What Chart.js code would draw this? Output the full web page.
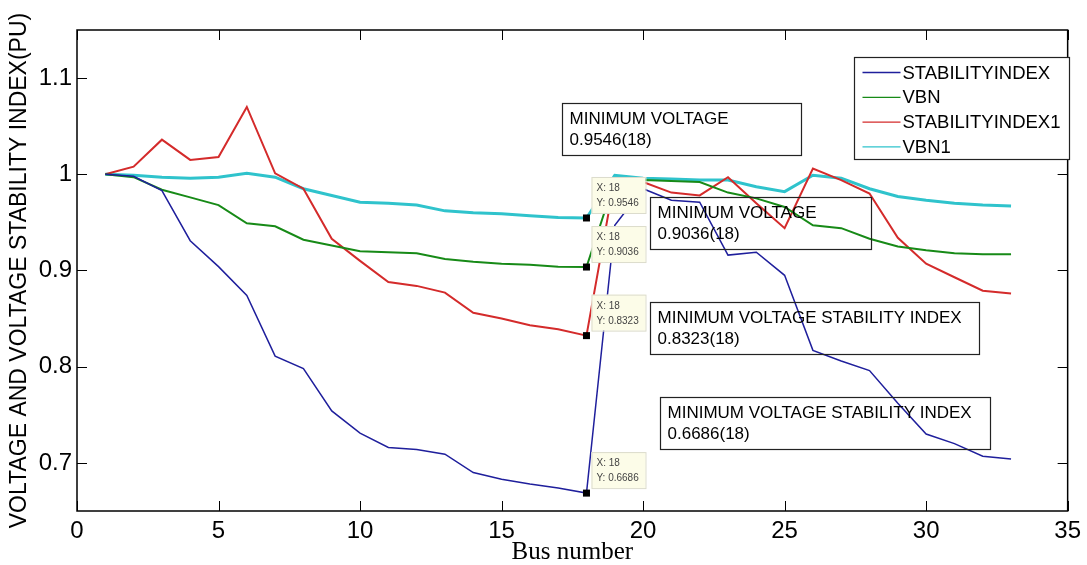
<!DOCTYPE html>
<html>
<head>
<meta charset="utf-8">
<script src="https://cdn.jsdelivr.net/npm/chart.js@4.4.1/dist/chart.umd.min.js"></script>
<style>
  html, body { margin: 0; padding: 0; background: #fff; }
  #wrap { width: 1087px; height: 565px; }
</style>
</head>
<body>
<div id="wrap"><canvas id="chart" width="1087" height="565"></canvas></div>
<script>
'use strict';

// ── Data ─────────────────────────────────────────────────────────────────────

const buses = [1, 2, 3, 4, 5, 6, 7, 8, 9, 10, 11, 12, 13, 14, 15, 16, 17,
               18, 19, 20, 21, 22, 23, 24, 25, 26, 27, 28, 29, 30, 31, 32, 33];

const stabilityIndex = [1.000, 0.998, 0.983, 0.931, 0.904, 0.874, 0.811, 0.798,
  0.754, 0.731, 0.716, 0.714, 0.709, 0.690, 0.683, 0.678, 0.674, 0.6686,
  0.947, 0.985, 0.973, 0.971, 0.916, 0.919, 0.895, 0.817, 0.806, 0.796,
  0.762, 0.730, 0.720, 0.707, 0.704];

const vbn = [1.000, 0.997, 0.984, 0.976, 0.968, 0.949, 0.946, 0.932,
  0.926, 0.920, 0.919, 0.918, 0.912, 0.909, 0.907, 0.906, 0.904, 0.9036,
  0.993, 0.994, 0.993, 0.992, 0.981, 0.975, 0.966, 0.947, 0.944, 0.933,
  0.925, 0.921, 0.918, 0.917, 0.917];

const stabilityIndex1 = [1.000, 1.008, 1.036, 1.015, 1.018, 1.070, 1.001, 0.985,
  0.933, 0.910, 0.888, 0.884, 0.877, 0.856, 0.850, 0.843, 0.839, 0.8323,
  0.996, 0.992, 0.981, 0.978, 0.997, 0.970, 0.944, 1.006, 0.994, 0.980,
  0.934, 0.907, 0.893, 0.879, 0.876];

const vbn1 = [1.000, 0.999, 0.997, 0.996, 0.997, 1.001, 0.997, 0.985,
  0.978, 0.971, 0.970, 0.968, 0.962, 0.960, 0.959, 0.957, 0.955, 0.9546,
  0.999, 0.996, 0.995, 0.994, 0.994, 0.987, 0.982, 0.999, 0.996, 0.985,
  0.977, 0.973, 0.970, 0.968, 0.967];

const seriesNames = ['STABILITYINDEX', 'VBN', 'STABILITYINDEX1', 'VBN1'];

const xTicks = [0, 5, 10, 15, 20, 25, 30, 35];
const yTicks = [0.7, 0.8, 0.9, 1.0, 1.1];

// MATLAB data tips at the minimum bus
const tipBus = 18;

// Text boxes: anchored in data units (bus, value), size in px
const notes = [
  { x: 17.13, y: 1.074, w: 239, lines: ['MINIMUM VOLTAGE', '0.9546(18)'] },
  { x: 20.23, y: 0.976, w: 221, lines: ['MINIMUM VOLTAGE', '0.9036(18)'] },
  { x: 20.23, y: 0.867, w: 329, lines: ['MINIMUM VOLTAGE STABILITY INDEX', '0.8323(18)'] },
  { x: 20.59, y: 0.768, w: 330, lines: ['MINIMUM VOLTAGE STABILITY INDEX', '0.6686(18)'] },
];

// ── Styling ──────────────────────────────────────────────────────────────────

const SANS  = '"Liberation Sans", Arial, sans-serif';
const SERIF = '"Liberation Serif", "Times New Roman", serif';
const colors = ['#1f1f9c', '#178a17', '#d42b2b', '#2fc3cc'];
const widths = [1.5, 2, 2, 3];

function points(arr) {
  return buses.map((b, i) => ({ x: b, y: arr[i] }));
}

const allSeries = [stabilityIndex, vbn, stabilityIndex1, vbn1];

// ── Plugins ──────────────────────────────────────────────────────────────────

// Box frame with inward ticks on all four sides (MATLAB style)
const framePlugin = {
  id: 'frame',
  afterDatasetsDraw(chart) {
    const { ctx, chartArea: a, scales: { x, y } } = chart;
    const TL = 10;
    ctx.save();
    ctx.strokeStyle = '#000';
    ctx.lineWidth = 1.5;
    ctx.strokeRect(a.left, a.top, a.right - a.left, a.bottom - a.top);
    ctx.lineWidth = 1;
    ctx.beginPath();
    xTicks.forEach(v => {
      const px = Math.round(x.getPixelForValue(v)) + 0.5;
      ctx.moveTo(px, a.bottom); ctx.lineTo(px, a.bottom - TL);
      ctx.moveTo(px, a.top);    ctx.lineTo(px, a.top + TL);
    });
    yTicks.forEach(v => {
      const py = Math.round(y.getPixelForValue(v)) + 0.5;
      ctx.moveTo(a.left, py);  ctx.lineTo(a.left + TL, py);
      ctx.moveTo(a.right, py); ctx.lineTo(a.right - TL, py);
    });
    ctx.stroke();
    ctx.restore();
  },
};

// Data tips, text boxes and legend drawn on top of everything
const overlayPlugin = {
  id: 'overlay',
  afterDraw(chart) {
    const { ctx, scales: { x, y } } = chart;
    const idx = buses.indexOf(tipBus);
    ctx.save();

    // data tips
    allSeries.forEach(arr => {
      const v = arr[idx];
      const px = x.getPixelForValue(tipBus);
      const py = y.getPixelForValue(v);
      ctx.fillStyle = '#fcfce8';
      ctx.strokeStyle = '#dcdccc';
      ctx.lineWidth = 1;
      ctx.fillRect(px + 5, py - 41, 54, 36);
      ctx.strokeRect(px + 5.5, py - 40.5, 54, 36);
      ctx.fillStyle = '#000';
      ctx.fillRect(px - 3.5, py - 3.5, 7, 7);
      ctx.fillStyle = '#444';
      ctx.font = '10px ' + SANS;
      ctx.textAlign = 'left';
      ctx.textBaseline = 'alphabetic';
      ctx.fillText('X: ' + tipBus, px + 10, py - 27);
      ctx.fillText('Y: ' + v.toFixed(4), px + 10, py - 12);
    });

    // text boxes
    notes.forEach(n => {
      const left = Math.round(x.getPixelForValue(n.x)) + 0.5;
      const top  = Math.round(y.getPixelForValue(n.y)) + 0.5;
      ctx.strokeStyle = '#222';
      ctx.lineWidth = 1.2;
      ctx.strokeRect(left, top, n.w, 52);
      ctx.fillStyle = '#000';
      ctx.font = '17px ' + SANS;
      ctx.textAlign = 'left';
      ctx.textBaseline = 'alphabetic';
      ctx.fillText(n.lines[0], left + 7, top + 20);
      ctx.fillText(n.lines[1], left + 7, top + 41);
    });

    // legend
    const lx = 854.5, ly = 57.5, lw = 215, lh = 102;
    ctx.fillStyle = '#fff';
    ctx.fillRect(lx, ly, lw, lh);
    ctx.strokeStyle = '#222';
    ctx.lineWidth = 1.2;
    ctx.strokeRect(lx, ly, lw, lh);
    ctx.font = '18.5px ' + SANS;
    ctx.textBaseline = 'middle';
    chart.data.datasets.forEach((ds, i) => {
      const cy = ly + 15 + i * 24.8;
      ctx.strokeStyle = ds.borderColor;
      ctx.lineWidth = 1.3;
      ctx.beginPath();
      ctx.moveTo(lx + 8, cy);
      ctx.lineTo(lx + 46, cy);
      ctx.stroke();
      ctx.fillStyle = '#000';
      ctx.fillText(ds.label, lx + 48, cy + 1);
    });
    ctx.restore();
  },
};

// ── Chart ────────────────────────────────────────────────────────────────────

new Chart(document.getElementById('chart'), {
  type: 'line',
  data: {
    datasets: allSeries.map((arr, i) => ({
      label: seriesNames[i],
      data: points(arr),
      borderColor: colors[i],
      backgroundColor: 'transparent',
      borderWidth: widths[i],
      pointRadius: 0,
      tension: 0,
    })),
  },
  options: {
    responsive: false,
    animation: false,
    events: [],
    layout: { padding: { left: 0, right: 17, top: 30, bottom: 0 } },
    scales: {
      x: {
        type: 'linear',
        min: 0,
        max: 35,
        afterFit(s) { s.height = 54; },
        afterBuildTicks(s) { s.ticks = xTicks.map(v => ({ value: v })); },
        grid: { display: false, drawTicks: false, tickLength: 0 },
        border: { display: false },
        ticks: {
          color: '#000',
          padding: 6,
          maxRotation: 0,
          autoSkip: false,
          font: { family: SANS, size: 24 },
          callback: v => String(v),
        },
        title: {
          display: true,
          text: 'Bus number',
          color: '#000',
          font: { family: SERIF, size: 25, lineHeight: 1 },
          padding: { top: 0, bottom: 0 },
        },
      },
      y: {
        min: 0.65,
        max: 1.15,
        afterFit(s) { s.width = 77; },
        afterBuildTicks(s) { s.ticks = yTicks.map(v => ({ value: v })); },
        grid: { display: false, drawTicks: false, tickLength: 0 },
        border: { display: false },
        ticks: {
          color: '#000',
          padding: 5,
          autoSkip: false,
          font: { family: SANS, size: 24 },
          callback: v => String(Math.round(v * 10) / 10),
        },
        title: {
          display: true,
          text: 'VOLTAGE AND VOLTAGE STABILITY INDEX(PU)',
          color: '#000',
          font: { family: SANS, size: 23, lineHeight: 1.2 },
          padding: { top: 6, bottom: 0 },
        },
      },
    },
    plugins: {
      legend: { display: false },
      tooltip: { enabled: false },
    },
  },
  plugins: [framePlugin, overlayPlugin],
});
</script>
</body>
</html>
